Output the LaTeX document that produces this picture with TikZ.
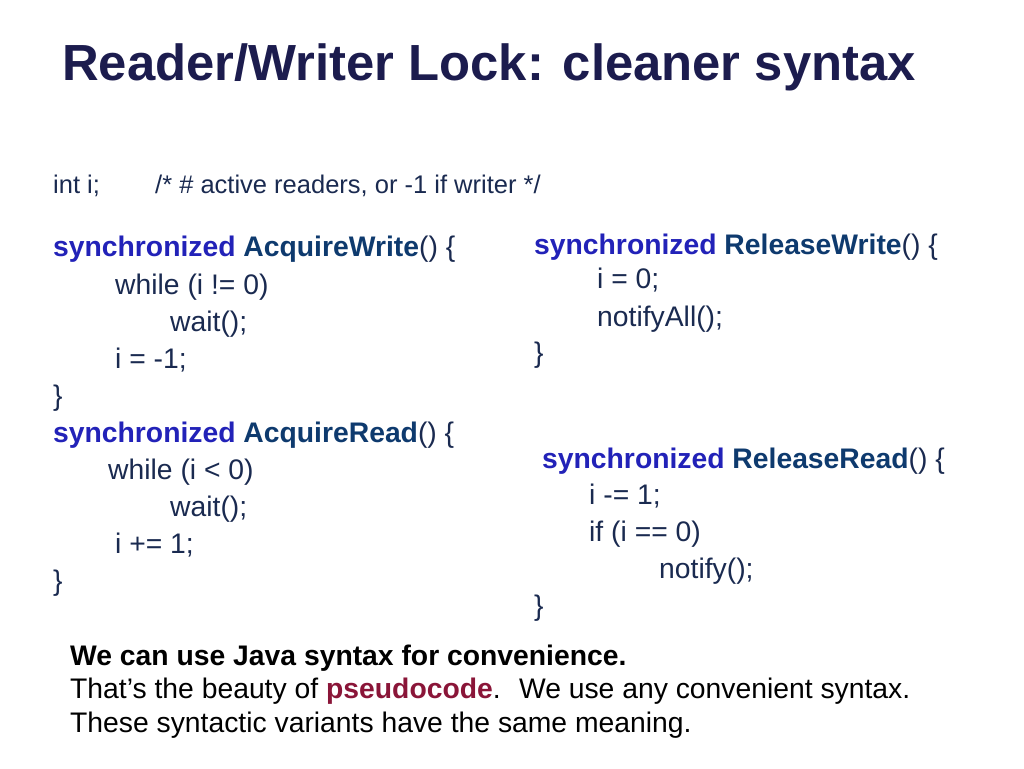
\documentclass[tikz,border=0pt]{standalone}
\usepackage{fontspec}
\setmainfont{Liberation Sans}
\definecolor{titlecol}{HTML}{1C1C4E}
\definecolor{kwcol}{HTML}{2222B8}
\definecolor{namecol}{HTML}{0E3A6E}
\definecolor{bodycol}{HTML}{1A2A50}
\definecolor{pseudocol}{HTML}{8A1538}
\tikzset{
  code/.style={anchor=base west, inner sep=0pt, text=bodycol, font=\fontsize{28.3}{32}\selectfont},
  small/.style={code, font=\fontsize{25.5}{29}\selectfont},
  note/.style={anchor=base west, inner sep=0pt, text=black, font=\fontsize{28.3}{32}\selectfont}
}
\newcommand{\kw}[1]{\textbf{\color{kwcol}synchronized} \textbf{\color{namecol}#1}()~\{}
\begin{document}
\begin{tikzpicture}[x=1pt,y=-1pt]
  \useasboundingbox (0,0) rectangle (1024,768);

  \node[anchor=base west, inner sep=0pt, text=titlecol, font=\fontsize{50.8}{56}\bfseries\selectfont] (title) at (62,80) {Reader/Writer Lock: cleaner syntax};

  \node[small] (decl) at (53,193) {int i;};
  \node[small] (comment) at (155,193) {/* \# active readers, or -1 if writer */};

  % left column
  \node[code] (aw) at (53,256) {\kw{AcquireWrite}};
  \node[code] (aw1) at (115,294) {while (i != 0)};
  \node[code] (aw2) at (170,331) {wait();};
  \node[code] (aw3) at (115,368) {i = -1;};
  \node[code] (aw4) at (53,405) {\}};
  \node[code] (ar) at (53,442) {\kw{AcquireRead}};
  \node[code] (ar1) at (108,479) {while (i < 0)};
  \node[code] (ar2) at (170,516) {wait();};
  \node[code] (ar3) at (115,553) {i += 1;};
  \node[code] (ar4) at (53,590) {\}};

  % right column
  \node[code] (rw) at (534,254) {\kw{ReleaseWrite}};
  \node[code] (rw1) at (597,288) {i = 0;};
  \node[code] (rw2) at (597,326) {notifyAll();};
  \node[code] (rw3) at (534,362) {\}};
  \node[code] (rr) at (542,468) {\kw{ReleaseRead}};
  \node[code] (rr1) at (589,504) {i -= 1;};
  \node[code] (rr2) at (589,541) {if (i == 0)};
  \node[code] (rr3) at (659,578) {notify();};
  \node[code] (rr4) at (534,615) {\}};

  % bottom note
  \node[note] (n1) at (70,665) {\textbf{We can use Java syntax for convenience.}};
  \node[note] (n2) at (70,698) {That’s the beauty of \textbf{\color{pseudocol}pseudocode}.~ We use any convenient syntax.};
  \node[note] (n3) at (70,732) {These syntactic variants have the same meaning.};
\end{tikzpicture}
\end{document}
